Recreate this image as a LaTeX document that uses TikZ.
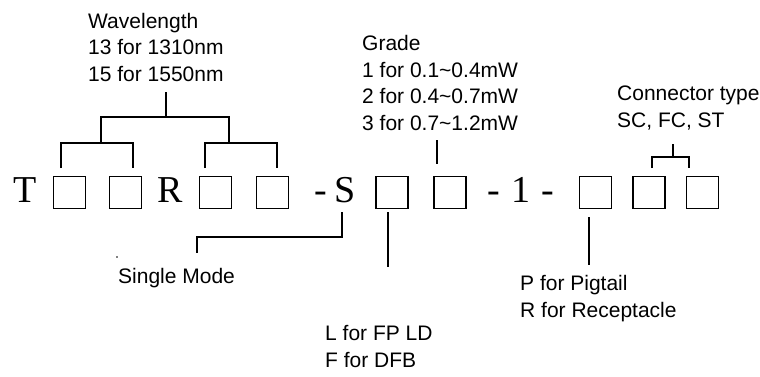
\documentclass[tikz,border=0pt]{standalone}
\usepackage{fontspec}
\newfontfamily\labelfont{Liberation Sans}
\newfontfamily\codefont{Liberation Serif}
\usetikzlibrary{calc, positioning}
\tikzset{
  digit/.style  = {draw, line width=1.6pt, minimum size=32pt, inner sep=0pt},
  letter/.style = {inner sep=0pt, anchor=base, font=\codefont\fontsize{38}{38}\selectfont},
  note/.style   = {inner sep=0pt, anchor=base west, align=left,
                   font=\labelfont\fontsize{21}{26.5}\selectfont},
  bracket/.style = {line width=1.3pt},
}

\begin{document}
\begin{tikzpicture}[x=1pt, y=-1pt]
  \useasboundingbox (0,0) rectangle (760,376);
  % part number
  \node[letter] (t)  at (25.5,202) {T};
  \node[digit]  (b1) at (69.5,192.5) {};
  \node[digit]  (b2) at (125.5,192.5) {};
  \node[letter] (r)  at (170,202) {R};
  \node[digit]  (b3) at (215.5,192.5) {};
  \node[digit]  (b4) at (272.5,192.5) {};
  \node[letter] (d1) at (320.5,202) {-};
  \node[letter] (s)  at (345,202) {S};
  \node[digit]  (b5) at (392,192.5) {};
  \node[digit]  (b6) at (450,192.5) {};
  \node[letter] (d2) at (494,202) {-};
  \node[letter] (one) at (521,202) {1};
  \node[letter] (d3) at (548,202) {-};
  \node[digit]  (b7) at (595.5,192.5) {};
  \node[digit]  (b8) at (649,192.5) {};
  \node[digit]  (b9) at (702.5,192.5) {};

  % labels (anchored on the last line)
  \node[note] (wave)  at (88,81)   {Wavelength\\13 for 1310nm\\15 for 1550nm};
  \node[note] (grade) at (362,130) {Grade\\1 for 0.1\textasciitilde0.4mW\\2 for 0.4\textasciitilde0.7mW\\3 for 0.7\textasciitilde1.2mW};
  \node[note] (conn)  at (617,127) {Connector type\\SC, FC, ST};
  \node[note] (mode)  at (118,283) {Single Mode};
  \node[note] (laser) at (325,367) {L for FP LD\\F for DFB};
  \node[note] (pig)   at (520,317) {P for Pigtail\\R for Receptacle};

  % wavelength tree
  \coordinate (w1) at (61,168);
  \coordinate (w2) at (133,168);
  \coordinate (w3) at (205,168);
  \coordinate (w4) at (277,168);
  \coordinate (wa) at (101,143);
  \coordinate (wb) at (229,143);
  \coordinate (wtop) at (166,92);
  \draw[bracket] (w1) -- ++(0,-25) -| (w2);
  \draw[bracket] (w3) -- ++(0,-25) -| (w4);
  \draw[bracket] (wa) -- ++(0,-26) -| (wb);
  \draw[bracket] (wtop) -- (wtop |- 0,117);

  % single mode
  \coordinate (s0) at (342,212);
  \coordinate (sm) at (197,253);
  \draw[bracket] (s0) -- ++(0,25) -| (sm);
  \fill (117,257) circle (0.9);

  % grade, laser, package
  \draw[bracket] (437,140) coordinate (g0) -- (437,164) coordinate (g1);
  \draw[bracket] (388,212) coordinate (l0) -- (388,267) coordinate (l1);
  \draw[bracket] (589,217) coordinate (p0) -- (589,265) coordinate (p1);

  % connector type
  \coordinate (c1) at (652,168);
  \coordinate (c2) at (689,168);
  \coordinate (ctop) at (673,144);
  \draw[bracket] (c1) -- ++(0,-11) -| (c2);
  \draw[bracket] (ctop) -- (ctop |- 0,157);
\end{tikzpicture}
\end{document}
